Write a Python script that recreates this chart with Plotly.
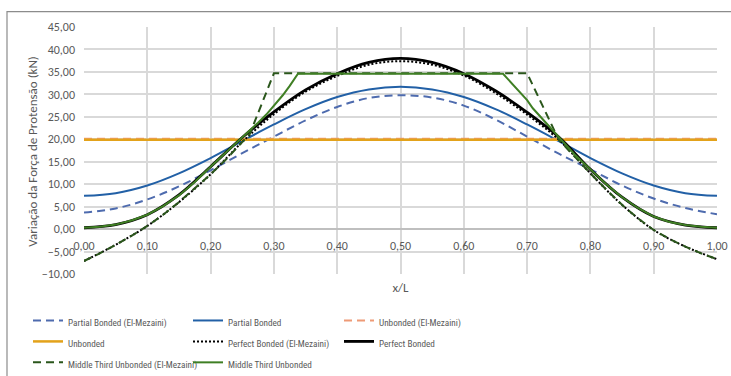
import plotly.graph_objects as go

# ---------------- data ----------------
x_grid = [0.00, 0.05, 0.10, 0.15, 0.20, 0.25, 0.30, 0.35, 0.40, 0.45, 0.50,
          0.55, 0.60, 0.65, 0.70, 0.75, 0.80, 0.85, 0.90, 0.95, 1.00]

partial_bonded_em = [3.7, 4.6, 6.6, 9.5, 13.1, 16.9, 20.6, 24.2, 27.2, 29.2, 29.8,
                     29.3, 27.5, 24.4, 20.6, 16.8, 13.3, 9.7, 6.8, 4.7, 3.3]
partial_bonded = [7.4, 8.0, 9.7, 12.4, 15.8, 19.6, 23.3, 26.7, 29.4, 31.1, 31.7,
                  31.1, 29.4, 26.7, 23.3, 19.6, 15.8, 12.4, 9.7, 8.0, 7.4]

x_unb = [0.0, 1.0]
unbonded_em = [20.1, 20.1]
unbonded = [19.9, 19.9]

perfect_bonded_em = [-7.1, -3.5, 0.7, 6.0, 12.2, 19.4, 25.6, 30.6, 34.1, 36.6, 37.4,
                     36.6, 34.2, 30.3, 25.5, 19.9, 12.4, 5.4, -0.2, -3.9, -6.7]
perfect_bonded = [0.3, 1.0, 3.2, 7.6, 13.9, 20.4, 26.1, 31.0, 34.6, 37.1, 38.0,
                  37.1, 34.6, 30.8, 26.0, 20.5, 13.3, 7.1, 2.8, 0.9, 0.3]

x_mt_em = [0.000, 0.025, 0.050, 0.075, 0.100, 0.125, 0.150, 0.175, 0.200, 0.225,
           0.250, 0.262, 0.300, 0.700, 0.750, 0.775, 0.800, 0.825, 0.850, 0.875,
           0.900, 0.925, 0.950, 0.975, 1.000]
middle_third_em = [-7.1, -5.4, -3.5, -1.5, 0.7, 3.2, 6.0, 9.0, 12.2, 15.6,
                   19.4, 21.2, 34.7, 34.7, 19.9, 16.1, 12.4, 8.8, 5.4, 2.4,
                   -0.2, -2.2, -3.9, -5.4, -6.7]

x_mt = [0.000, 0.025, 0.050, 0.075, 0.100, 0.125, 0.150, 0.175, 0.200, 0.225,
        0.250, 0.262, 0.275, 0.288, 0.300, 0.314, 0.325, 0.338, 0.662, 0.675,
        0.688, 0.700, 0.709, 0.720, 0.730, 0.740, 0.751, 0.775, 0.800, 0.825,
        0.850, 0.875, 0.900, 0.925, 0.950, 0.975, 1.000]
middle_third = [0.3, 0.5, 1.0, 1.9, 3.2, 5.1, 7.5, 10.5, 13.9, 17.1,
                20.4, 22.0, 23.7, 25.5, 27.4, 29.8, 31.9, 34.6, 34.6, 32.6,
                30.6, 28.7, 26.9, 25.2, 23.5, 21.9, 20.2, 16.6, 13.3, 10.0,
                7.1, 4.7, 2.8, 1.6, 0.9, 0.5, 0.3]

names = ["Partial Bonded (El-Mezaini)", "Partial Bonded", "Unbonded (El-Mezaini)",
         "Unbonded", "Perfect Bonded (El-Mezaini)", "Perfect Bonded",
         "Middle Third Unbonded (El-Mezaini)", "Middle Third Unbonded"]

y_ticks = [-10, -5, 0, 5, 10, 15, 20, 25, 30, 35, 40, 45]
x_ticks = [0.0, 0.1, 0.2, 0.3, 0.4, 0.5, 0.6, 0.7, 0.8, 0.9, 1.0]

y_title = "Variação da Força de Protensão (kN)"
x_title = "x/L"

# ---------------- styling ----------------
TXT = "#595959"
LEG_FONT = "Roboto Condensed, Carlito, sans-serif"
BASE_FONT = "Carlito, Calibri, Liberation Sans, sans-serif"


def lname(n):
    return '<span style="font-size:9.2px">' + n + '</span>'


series = [
    (x_grid, partial_bonded_em, names[0], dict(color="#4E6BAE", width=2, dash="8px,5px"), "spline", "legend"),
    (x_grid, partial_bonded, names[1], dict(color="#2260A6", width=2), "spline", "legend2"),
    (x_unb, unbonded_em, names[2], dict(color="#EE9A76", width=2, dash="8px,5px"), "linear", "legend3"),
    (x_unb, unbonded, names[3], dict(color="#E3A21A", width=2.5), "linear", "legend"),
    (x_grid, perfect_bonded_em, names[4], dict(color="#000000", width=2, dash="2px,2px"), "spline", "legend2"),
    (x_grid, perfect_bonded, names[5], dict(color="#000000", width=2.8), "spline", "legend3"),
    (x_mt_em, middle_third_em, names[6], dict(color="#2A561B", width=2, dash="8px,5px"), "linear", "legend"),
    (x_mt, middle_third, names[7], dict(color="#3F7F24", width=2), "linear", "legend2"),
]

fig = go.Figure()
for xs, ys, nm, ln, shape, lg in series:
    ln = dict(ln)
    ln["shape"] = shape
    if shape == "spline":
        ln["smoothing"] = 1.0
    fig.add_trace(go.Scatter(x=xs, y=ys, mode="lines", name=lname(nm),
                             line=ln, legend=lg, hoverinfo="skip"))

W, H = 731, 376
leg_common = dict(xref="container", yref="container", xanchor="left", yanchor="top",
                  orientation="v", bgcolor="rgba(0,0,0,0)", borderwidth=0,
                  font=dict(family=LEG_FONT, size=13.8, color=TXT),
                  itemwidth=30, tracegroupgap=0)
leg_top = 1 - 305 / H

fig.update_layout(
    width=W, height=H,
    margin=dict(l=84, r=14, t=27, b=102, pad=0, autoexpand=False),
    paper_bgcolor="white", plot_bgcolor="white",
    separators=",.",
    font=dict(family=BASE_FONT, size=12, color=TXT),
    showlegend=True,
    legend=dict(leg_common, x=28 / W, y=leg_top),
    legend2=dict(leg_common, x=188 / W, y=leg_top),
    legend3=dict(leg_common, x=339 / W, y=leg_top),
    xaxis=dict(range=[0, 1], tickvals=x_ticks, tickformat=".2f",
               showgrid=True, gridcolor="#D9D9D9", gridwidth=1.5,
               zeroline=False, showline=False, ticks="", tickangle=0,
               anchor="free", position=10 / 55, ticklabelstandoff=8,
               tickfont=dict(family=BASE_FONT, size=12, color=TXT),
               title=dict(text=x_title, font=dict(family=BASE_FONT, size=13, color=TXT),
                          standoff=30)),
    yaxis=dict(range=[-10, 45], tickvals=y_ticks, tickformat=".2f",
               showgrid=True, gridcolor="#D9D9D9", gridwidth=1.5,
               zeroline=True, zerolinecolor="#BFBFBF", zerolinewidth=1.5,
               showline=False, ticks="", ticklabelstandoff=8,
               tickfont=dict(family=BASE_FONT, size=12, color=TXT)),
)

# y-axis title (placed as rotated text to the left of the tick labels)
fig.add_annotation(text=y_title, xref="paper", yref="paper",
                   x=(33 - 84.3) / 633, y=(274.3 - 151) / 247.6,
                   xanchor="center", yanchor="middle", textangle=-90, showarrow=False,
                   font=dict(family=BASE_FONT, size=13, color=TXT))

# outer chart border (extends past the right/bottom edge as in the reference)
fig.add_shape(type="rect", xref="paper", yref="paper",
              x0=(7 - 84) / 633, x1=1.2, y0=-0.6, y1=(274.3 - 12) / 247,
              line=dict(color="#8C8C8C", width=1.2), fillcolor="rgba(0,0,0,0)",
              layer="below")

fig.write_html("out.html")
